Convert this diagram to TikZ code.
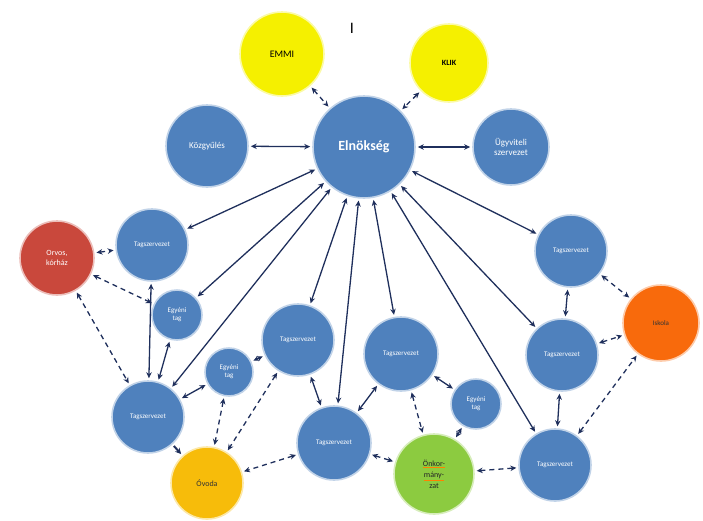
\documentclass[tikz,border=0pt]{standalone}
\usepackage{fontspec}
\setmainfont{Carlito}
\usetikzlibrary{arrows.meta}

\definecolor{tagblue}{HTML}{4F81BD}
\definecolor{arrownavy}{HTML}{1F2F5C}
\definecolor{emmiyellow}{HTML}{F5F000}
\definecolor{orvosred}{HTML}{C9483C}
\definecolor{iskolaorange}{HTML}{F86A0C}
\definecolor{ovodagold}{HTML}{F7BC0A}
\definecolor{onkgreen}{HTML}{8CCB40}

\tikzset{
  ball/.style={circle, fill=#1, draw=#1!35!white, line width=1.6pt,
    inner sep=0pt, align=center, font=\fontsize{7}{8}\selectfont},
  bluenode/.style={ball=tagblue, text=white},
  link/.style={{Stealth[length=6pt,width=5.5pt]}-{Stealth[length=6pt,width=5.5pt]},
    draw=arrownavy, line width=1.3pt, shorten <=2pt, shorten >=2pt},
  dlink/.style={link, dash pattern=on 5pt off 4pt}
}

\begin{document}
\begin{tikzpicture}[x=1pt, y=-1pt]
  % Fix the size of the picture
  \useasboundingbox (0,0) rectangle (703,520);

  % Top row
  \node (mark) at (352,28) {\fontsize{16}{16}\selectfont I};
  \node[ball=emmiyellow, minimum size=84pt, font=\fontsize{10}{11}\selectfont] (emmi) at (282,54) {EMMI};
  \node[ball=emmiyellow, minimum size=78pt, font=\bfseries\fontsize{8}{9}\selectfont] (klik) at (449,63) {KLIK};

  % Middle row
  \node[bluenode, minimum size=82pt, font=\fontsize{9}{10}\selectfont] (kozgy) at (207,146) {Közgyűlés};
  \node[bluenode, minimum size=102pt, font=\bfseries\fontsize{14}{16}\selectfont] (eln) at (364,147) {Elnökség};
  \node[bluenode, minimum size=76pt, font=\fontsize{9}{10}\selectfont] (ugyv) at (511,147) {Ügyviteli\\szervezet};

  % Member organisations
  \node[bluenode, minimum size=72pt] (t1) at (152,245) {Tagszervezet};
  \node[bluenode, minimum size=72pt] (t2) at (148,417) {Tagszervezet};
  \node[bluenode, minimum size=72pt] (t3) at (298,340) {Tagszervezet};
  \node[bluenode, minimum size=74pt] (t4) at (401,354) {Tagszervezet};
  \node[bluenode, minimum size=74pt] (t5) at (334,443) {Tagszervezet};
  \node[bluenode, minimum size=72pt] (t6) at (571,251) {Tagszervezet};
  \node[bluenode, minimum size=72pt] (t7) at (562,355) {Tagszervezet};
  \node[bluenode, minimum size=72pt] (t8) at (555,465) {Tagszervezet};

  % Individual members
  \node[bluenode, minimum size=50pt] (e1) at (177,315) {Egyéni\\tag};
  \node[bluenode, minimum size=48pt] (e2) at (229,372) {Egyéni\\tag};
  \node[bluenode, minimum size=50pt] (e3) at (476,404) {Egyéni\\tag};

  % Partners
  \node[ball=orvosred, text=white, minimum size=74pt, font=\fontsize{8}{10}\selectfont] (orvos) at (57,258) {Orvos,\\kórház};
  \node[ball=iskolaorange, text=black!80, minimum size=76pt] (isk) at (661,323) {Iskola};
  \node[ball=ovodagold, text=black!80, minimum size=72pt, font=\fontsize{8}{9}\selectfont] (ovoda) at (207,483) {Óvoda};
  \node[ball=onkgreen, text=black!85, minimum size=80pt, font=\fontsize{8}{11}\selectfont] (onk) at (434,474)
    {{\color{orange}\underline{\color{black!85}Önkor-}}\\{\color{orange}\underline{\color{black!85}mány-}}\\zat};

  % Draw the solid connections
  \foreach \a/\b in {kozgy/eln, eln/ugyv, eln/t1, eln/e1, eln/t2, eln/t3, eln/t5,
                     eln/t4, eln/t8, eln/t7, eln/t6, t1/t2, e1/t2, t2/e2, e2/t3,
                     t3/t5, t4/t5, t4/e3, t6/t7, t7/t8}
    \draw[link] (\a) -- (\b);
  \draw[link, -{Stealth[length=6pt,width=6pt]}, line width=2pt] (t2) -- (ovoda);

  % Draw the dashed connections
  \foreach \a/\b in {emmi/eln, klik/eln, orvos/t1, orvos/e1, orvos/t2, e2/ovoda,
                     t3/ovoda, t5/ovoda, t5/onk, t4/onk, e3/onk, onk/t8,
                     t6/isk, t7/isk, t8/isk}
    \draw[dlink] (\a) -- (\b);

\end{tikzpicture}
\end{document}
